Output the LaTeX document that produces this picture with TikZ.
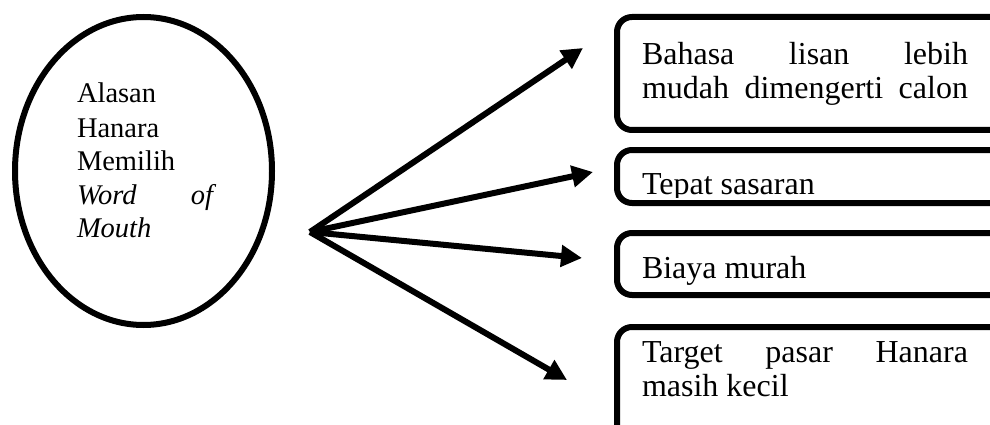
\documentclass[tikz,border=0pt]{standalone}
\usepackage{fontspec}
\setmainfont{Liberation Serif}[
  UprightFont={Liberation Serif},
  ItalicFont={Liberation Serif Italic},
  BoldFont={Liberation Serif Bold},
  BoldItalicFont={Liberation Serif Bold Italic}]
\usetikzlibrary{shapes.geometric,arrows.meta}
\tikzset{
  thick line/.style={line width=6pt},
  reasonbox/.style={draw, thick line, rectangle, rounded corners=15pt, inner sep=0pt, outer sep=0pt, anchor=north west, minimum width=420pt},
  ovalnode/.style={draw, thick line, ellipse, inner sep=0pt, outer sep=0pt, minimum width=257pt, minimum height=308pt},
  txt/.style={inner sep=0pt, outer sep=0pt, anchor=base west, font=\fontsize{32}{34}\selectfont},
  ovaltxt/.style={inner sep=0pt, outer sep=0pt, anchor=base west, font=\fontsize{28.5}{33.5}\selectfont},
  link/.style={thick line, -{Triangle[length=21pt,width=21pt]}}
}
\begin{document}
\begin{tikzpicture}[x=1pt,y=-1pt]
\useasboundingbox (0,0) rectangle (990,425);
\clip (0,0) rectangle (990,425);
% source ellipse
\node[ovalnode] (src) at (143.5,171) {};
\node[ovaltxt] (l1) at (77,103) {Alasan};
\node[ovaltxt] (l2) at (77,137) {Hanara};
\node[ovaltxt] (l3) at (77,170.5) {Memilih};
\node[ovaltxt] (l4) at (77,204) {\makebox[136pt][s]{\itshape Word of}};
\node[ovaltxt] (l5) at (77,237.5) {\itshape Mouth};
% boxes
\node[reasonbox, minimum height=113pt] (b1) at (617,17) {};
\node[reasonbox, minimum height=53pt] (b2) at (617,150) {};
\node[reasonbox, minimum height=62pt] (b3) at (617,233) {};
\node[reasonbox, minimum height=130pt] (b4) at (617,327) {};
% box texts
\node[txt] (t1a) at (642,65) {\makebox[326pt][s]{Bahasa lisan lebih}};
\node[txt] (t1b) at (642,98.5) {\makebox[326pt][s]{mudah dimengerti calon}};
\begin{scope}
\clip (600,140) rectangle (990,197);
\node[txt] (t2) at (642,194) {Tepat sasaran};
\end{scope}
\begin{scope}
\clip (600,225) rectangle (990,285.5);
\node[txt] (t3) at (642,278.5) {Biaya murah};
\end{scope}
\node[txt] (t4a) at (642,362) {\makebox[326pt][s]{Target pasar Hanara}};
\node[txt] (t4b) at (642,396.5) {masih kecil};
% arrows
\coordinate (hub) at (310,232);
\coordinate (e1) at (583,48);
\coordinate (e2) at (593,172);
\coordinate (e3) at (582,258);
\coordinate (e4) at (567,380);
\draw[link] (hub) -- (e1);
\draw[link] (hub) -- (e2);
\draw[link] (hub) -- (e3);
\draw[link] (hub) -- (e4);
\end{tikzpicture}
\end{document}
